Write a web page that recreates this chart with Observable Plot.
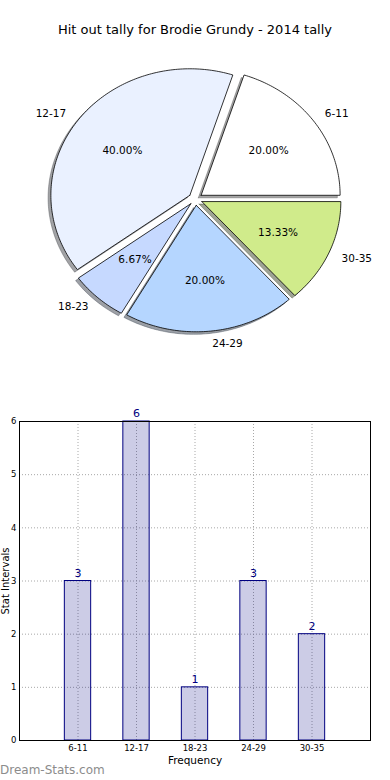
<!DOCTYPE html>
<html><head><meta charset="utf-8">
<script src="https://cdn.jsdelivr.net/npm/d3@7"></script>
<script src="https://cdn.jsdelivr.net/npm/@observablehq/plot@0.6"></script>
<style>
body{margin:0;background:#fff;font-family:"DejaVu Sans",sans-serif;}
#wrap{position:relative;width:390px;height:780px;overflow:hidden;background:#fff;}
#title{position:absolute;top:21px;left:0;width:390px;text-align:center;font-size:13px;line-height:18px;color:#000;}
#pie{position:absolute;top:0;left:0;}
#bar{position:absolute;top:380px;left:0;}
#wm{position:absolute;left:0;top:762px;font-size:12px;line-height:16px;color:#8c8c8c;}
</style></head><body>
<div id="wrap">
  <div id="pie"></div>
  <div id="title">Hit out tally for Brodie Grundy - 2014 tally</div>
  <div id="bar"></div>
  <div id="wm">Dream-Stats.com</div>
</div>
<script>
// ---- data ----
const categories = ["6-11", "12-17", "18-23", "24-29", "30-35"];
const counts = [3, 6, 1, 3, 2];
const yTicks = [0, 1, 2, 3, 4, 5, 6];
const title = "Hit out tally for Brodie Grundy - 2014 tally";
const xLabel = "Frequency";
const yLabel = "Stat Intervals";

// ---- styles ----
const sliceColors = ["#ffffff", "#eaf1ff", "#c6d9ff", "#b5d6ff", "#d0eb8b"];
const explode = 0.05;
const shadowOffset = 0.02;

// ---- pie geometry (layout) ----
const W = 390, H = 390, cx = 195, cy = 198.5, rx = 139, ry = 126.5;
const total = d3.sum(counts);
let acc = 0;
const slices = counts.map((c, i) => {
  const a0 = acc / total * 360;
  acc += c;
  const a1 = acc / total * 360;
  const mid = (a0 + a1) / 2 * Math.PI / 180;
  return {i, cat: categories[i], c, a0, a1, mid,
    ex: explode * Math.cos(mid), ey: explode * Math.sin(mid),
    pct: (c / total * 100).toFixed(2) + "%"};
});
function wedge(s, ox, oy) {
  const pts = [{x: s.ex + ox, y: s.ey + oy}];
  const n = Math.max(4, Math.ceil(s.a1 - s.a0));
  for (let k = 0; k <= n; k++) {
    const a = (s.a0 + (s.a1 - s.a0) * k / n) * Math.PI / 180;
    pts.push({x: s.ex + ox + Math.cos(a), y: s.ey + oy + Math.sin(a)});
  }
  pts.push({x: s.ex + ox, y: s.ey + oy});
  return pts;
}
const labelPts = slices.map(s => ({
  cat: s.cat, left: Math.cos(s.mid) > 0,
  x: s.ex + 1.1 * Math.cos(s.mid), y: s.ey + 1.1 * Math.sin(s.mid)}));
const pctPts = slices.map(s => ({
  pct: s.pct, x: s.ex + 0.6 * Math.cos(s.mid), y: s.ey + 0.6 * Math.sin(s.mid)}));

const pieMarks = [];
slices.forEach((s) => {
  const col = d3.rgb(sliceColors[s.i]);
  const sh = d3.rgb(col.r * 0.3, col.g * 0.3, col.b * 0.3).formatHex();
  pieMarks.push(Plot.line(wedge(s, -shadowOffset, -shadowOffset), {x: "x", y: "y", fill: sh, fillOpacity: 0.5, stroke: sh, strokeOpacity: 0.5, strokeWidth: 0.8}));
});
slices.forEach((s) => {
  pieMarks.push(Plot.line(wedge(s, 0, 0), {x: "x", y: "y", fill: sliceColors[s.i], stroke: "#000", strokeWidth: 0.8, strokeLinejoin: "miter"}));
});
pieMarks.push(Plot.text(labelPts.filter(d => d.left), {x: "x", y: "y", text: "cat", textAnchor: "start", fontSize: 10.5, fill: "#000"}));
pieMarks.push(Plot.text(labelPts.filter(d => !d.left), {x: "x", y: "y", text: "cat", textAnchor: "end", fontSize: 10.5, fill: "#000"}));
pieMarks.push(Plot.text(pctPts, {x: "x", y: "y", text: "pct", textAnchor: "middle", fontSize: 10.5, fill: "#000"}));

const pie = Plot.plot({
  width: W, height: H, margin: 0,
  style: {fontFamily: "DejaVu Sans", background: "transparent", overflow: "visible"},
  x: {domain: [-cx / rx, (W - cx) / rx], axis: null},
  y: {domain: [(cy - H) / ry, cy / ry], axis: null},
  marks: pieMarks
});
document.getElementById("pie").appendChild(pie);
document.getElementById("title").textContent = title;

// ---- bar chart ----
const barData = categories.map((cat, i) => ({cat, pos: i + 1, v: counts[i]}));
const halfW = 0.225;
const positions = barData.map(d => d.pos);
const bar = Plot.plot({
  width: 390, height: 400,
  marginLeft: 19, marginRight: 20, marginTop: 41, marginBottom: 40,
  style: {fontFamily: "DejaVu Sans", background: "transparent", overflow: "visible"},
  x: {domain: [0, categories.length + 1]},
  y: {domain: [0, d3.max(yTicks)]},
  marks: [
    Plot.gridX(positions, {stroke: "#a8a8a8", strokeOpacity: 1, strokeDasharray: "1,2"}),
    Plot.gridY(yTicks.slice(1, -1), {stroke: "#a8a8a8", strokeOpacity: 1, strokeDasharray: "1,2"}),
    Plot.rectY(barData, {x1: d => d.pos - halfW, x2: d => d.pos + halfW, y: "v", fill: "navy", fillOpacity: 0.2, stroke: "navy", strokeWidth: 1}),
    Plot.text(barData, {x: "pos", y: "v", text: d => String(d.v), dy: -8, fill: "navy", fontSize: 11}),
    Plot.axisX({ticks: positions, tickFormat: d => categories[d - 1], tickSize: 0, tickPadding: 4, fontSize: 8.5, label: null}),
    Plot.axisY({ticks: yTicks, tickFormat: d => String(d), tickSize: 0, tickPadding: 3, fontSize: 8.5, label: null}),
    Plot.frame({stroke: "#000"}),
    Plot.text([yLabel], {text: d => d, frameAnchor: "left", dx: -14, rotate: -90, textAnchor: "middle", lineAnchor: "middle", fontSize: 10, fill: "#000"}),
    Plot.text([xLabel], {text: d => d, frameAnchor: "bottom", dy: 20, textAnchor: "middle", lineAnchor: "middle", fontSize: 10.5, fill: "#000"})
  ]
});
document.getElementById("bar").appendChild(bar);
</script>
</body></html>
